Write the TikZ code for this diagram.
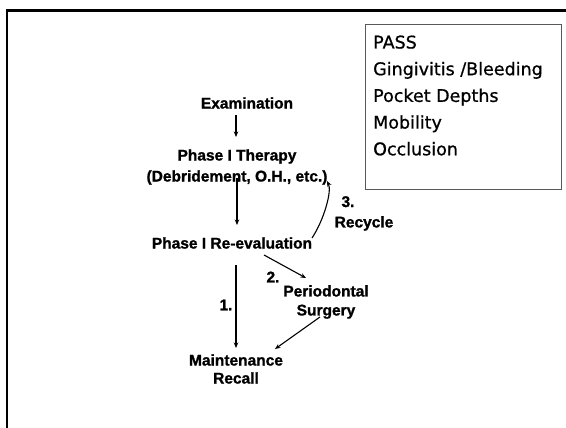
\documentclass[tikz,border=0pt]{standalone}
\usepackage{fontspec}
\setmainfont[BoldFeatures={FakeBold=1.2}]{Liberation Sans}
\newfontfamily\boxfont[FakeBold=0.8]{DejaVu Sans}
\usetikzlibrary{arrows.meta,calc}
\begin{document}
\begin{tikzpicture}[x=1pt,y=-1pt,
  flow/.style={font=\fontsize{15.5}{20}\selectfont\bfseries, align=center, inner sep=0pt},
  arr/.style={line width=1.1pt, -{Stealth[length=5.5pt,width=4.5pt]}},
  frameline/.style={line width=2.5pt},
  listbox/.style={draw=black!65, line width=0.8pt},
  listtext/.style={font=\boxfont\fontsize{17.5}{26.7}\selectfont, align=left, inner sep=0pt, anchor=north west}
  ]
\useasboundingbox (0,0) rectangle (566,428);
% slide frame
\draw[frameline] (566,10.7) -- (7,10.7) -- (7,428);
% list box
\draw[listbox] (365,24) rectangle (561,189);
\node[listtext] (list) at (373,35.3) {PASS\\Gingivitis /Bleeding\\Pocket Depths\\Mobility\\Occlusion};
% flow nodes
\node[flow] (exam) at (247,103) {Examination};
\node[flow, font=\fontsize{15.5}{21}\selectfont\bfseries] (ther) at (237,167) {Phase I Therapy\\(Debridement, O.H., etc.)};
\node[flow] (reeval) at (232,243) {Phase I Re-evaluation};
\node[flow, font=\fontsize{15.5}{19}\selectfont\bfseries] (perio) at (326,302) {Periodontal\\Surgery};
\node[flow, font=\fontsize{15.5}{18}\selectfont\bfseries] (maint) at (236,369) {Maintenance\\Recall};
% labels
\node[flow] (l1) at (226,305) {1.};
\node[flow] (l2) at (273,277) {2.};
\node[flow] (l3) at (348,201.7) {3.};
\node[flow] (l3b) at (364,223.4) {Recycle};
% connectors
\draw[arr] ([shift={(-11,12)}]exam.center) -- ([shift={(-1,-30)}]ther.center);
\draw[arr] ([shift={(0,11)}]ther.center) -- ([shift={(5,-18)}]reeval.center);
\draw[arr] ([shift={(4,22)}]reeval.center) -- ([shift={(0,-21)}]maint.center);
\draw[arr] ([shift={(32,12)}]reeval.center) -- ([shift={(-20,-24)}]perio.center);
\draw[arr] ([shift={(-6,15)}]perio.center) -- ([shift={(39,-20)}]maint.center);
\draw[arr] ([shift={(80,-5)}]reeval.center) .. controls (324,220) and (332,191) .. ([shift={(90,14)}]ther.center);
\end{tikzpicture}
\end{document}
